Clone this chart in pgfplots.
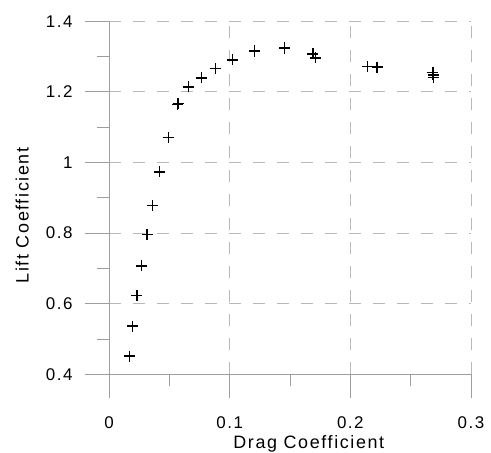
\documentclass[border=0pt]{standalone}
\usepackage{pgfplots}
\pgfplotsset{compat=1.18}
\usepackage{fontspec}
\setmainfont{Liberation Sans}[LetterSpace=9]

\definecolor{axisgray}{gray}{0.62}
\definecolor{gridgray}{gray}{0.72}

% Drag polar: lift coefficient against drag coefficient
\pgfplotstableread{
cd      cl
0.0168  0.4517
0.0197  0.5365
0.0231  0.6228
0.0271  0.7070
0.0315  0.7966
0.0359  0.8777
0.0417  0.9733
0.0491  1.0708
0.0570  1.1647
0.0572  1.1665
0.0658  1.2141
0.0765  1.2396
0.0880  1.2659
0.1021  1.2905
0.1206  1.3148
0.1208  1.3165
0.1452  1.3233
0.1454  1.3250
0.1690  1.3074
0.1712  1.2961
0.2144  1.2724
0.2222  1.2695
0.2226  1.2705
0.2684  1.2540
0.2686  1.2480
0.2689  1.2413
}\polar

\begin{document}
\begin{tikzpicture}
\useasboundingbox (-109bp,-78.7bp) rectangle (382bp,374.3bp);
\begin{axis}[
  at={(0,0)}, anchor=south west,
  scale only axis, width=362bp, height=353bp,
  xmin=0, xmax=0.3, ymin=0.4, ymax=1.4,
  axis x line*=bottom, axis y line*=left,
  axis line style={axisgray, line width=0.8bp},
  xtick={0,0.1,0.2,0.3}, xticklabels={0,0.1,0.2,0.3},
  ytick={0.4,0.6,0.8,1,1.2,1.4}, yticklabels={0.4,0.6,0.8,1,1.2,1.4},
  minor x tick num=1, minor y tick num=1,
  tick align=outside,
  major tick length=24bp, minor tick length=12bp,
  tick style={axisgray, line width=0.8bp},
  xmajorgrids, ymajorgrids,
  major grid style={gridgray, line width=0.8bp, dash pattern=on 12bp off 12bp},
  ticklabel style={font=\fontsize{17}{20}\selectfont},
  xticklabel shift=15bp, yticklabel shift=9bp,
  label style={font=\fontsize{18}{21}\selectfont},
  xlabel={Drag Coefficient}, ylabel={Lift Coefficient},
  xlabel style={at={(axis description cs:0.552,-0.163)}, anchor=north},
  ylabel style={at={(axis description cs:-0.240,0.45)}, anchor=center},
  clip=false,
]
\addplot[only marks, mark=+, mark size=5.5bp, line width=1.3bp, black] table[x=cd, y=cl] {\polar};
\end{axis}
\end{tikzpicture}
\end{document}
